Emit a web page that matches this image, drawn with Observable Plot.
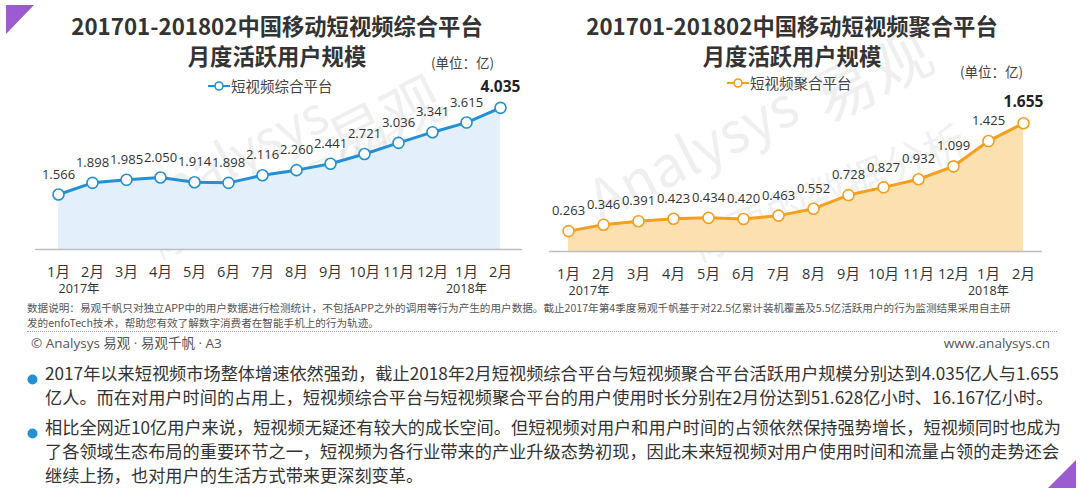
<!DOCTYPE html>
<html><head><meta charset="utf-8">
<script src="https://cdn.jsdelivr.net/npm/d3@7"></script>
<script src="https://cdn.jsdelivr.net/npm/@observablehq/plot@0.6"></script>
<style>
body{margin:0;width:1080px;height:492px;position:relative;background:#fff;overflow:hidden;font-family:"Open Sans","Noto Sans CJK SC",sans-serif;color:#333}
.abs{position:absolute;white-space:nowrap}
.title{font-family:"Noto Sans CJK SC",sans-serif;font-weight:bold;font-size:22.3px;color:#333;text-align:center;width:540px;line-height:30px}
.unit{font-family:"Noto Sans CJK SC",sans-serif;font-size:13.5px;color:#444;line-height:18px}
.legend{font-family:"Noto Sans CJK SC",sans-serif;font-size:14.5px;color:#444;line-height:20px;display:flex;align-items:center}
.note{font-family:"Noto Sans CJK SC",sans-serif;font-size:10.6px;color:#555;line-height:15px}
.foot{font-family:"Open Sans","Noto Sans CJK SC",sans-serif;font-size:13.5px;color:#555;line-height:18px}
.para{font-family:"Noto Sans CJK SC",sans-serif;font-size:17.2px;color:#333;line-height:22px}
.just{width:1000px;text-align:justify;text-align-last:justify}
.wm{position:absolute;white-space:nowrap;color:rgba(150,150,150,0.15);font-family:"Noto Sans CJK SC",sans-serif;transform-origin:left center;pointer-events:none}
</style></head>
<body>
<div id="root"></div>
<script>
const months = ["1月","2月","3月","4月","5月","6月","7月","8月","9月","10月","11月","12月","1月","2月"];
const years = [{i:0,label:"2017年"},{i:12,label:"2018年"}];
const comprehensive = [1.566,1.898,1.985,2.050,1.914,1.898,2.116,2.260,2.441,2.721,3.036,3.341,3.615,4.035];
const aggregate = [0.263,0.346,0.391,0.423,0.434,0.420,0.463,0.552,0.728,0.827,0.932,1.099,1.425,1.655];
const titles = [["201701-201802中国移动短视频综合平台","月度活跃用户规模"],["201701-201802中国移动短视频聚合平台","月度活跃用户规模"]];
const seriesNames = ["短视频综合平台","短视频聚合平台"];
const unitLabel = "(单位：亿)";
const noteLines = ["数据说明：易观千帆只对独立APP中的用户数据进行检测统计，不包括APP之外的调用等行为产生的用户数据。截止2017年第4季度易观千帆基于对22.5亿累计装机覆盖及5.5亿活跃用户的行为监测结果采用自主研","发的enfoTech技术，帮助您有效了解数字消费者在智能手机上的行为轨迹。"];
const footLeft = "© Analysys 易观 · 易观千帆 · A3";
const footRight = "www.analysys.cn";
const para1 = ["2017年以来短视频市场整体增速依然强劲，截止2018年2月短视频综合平台与短视频聚合平台活跃用户规模分别达到4.035亿人与1.655","亿人。而在对用户时间的占用上，短视频综合平台与短视频聚合平台的用户使用时长分别在2月份达到51.628亿小时、16.167亿小时。"];
const para2 = ["相比全网近10亿用户来说，短视频无疑还有较大的成长空间。但短视频对用户和用户时间的占领依然保持强势增长，短视频同时也成为","了各领域生态布局的重要环节之一，短视频为各行业带来的产业升级态势初现，因此未来短视频对用户使用时间和流量占领的走势还会","继续上扬，也对用户的生活方式带来更深刻变革。"];

const blue = "#2390d6", blueFill = "#e3f0fb";
const orange = "#f59f1c", orangeFill = "#fde0b0";
const purple = "#9b5cd2";
const root = document.getElementById("root");

function add(html, cls, left, top, extra) {
  const d = document.createElement("div");
  d.className = "abs " + (cls || "");
  d.style.left = left + "px"; d.style.top = top + "px";
  if (extra) Object.assign(d.style, extra);
  d.innerHTML = html;
  root.appendChild(d);
  return d;
}

// corner triangles
add(`<svg width="28" height="29"><polygon points="0,0 28,0 0,29" fill="${purple}"/></svg>`, "", 6, 5);
add(`<svg width="28" height="28"><polygon points="28,0 28,28 0,28" fill="${purple}"/></svg>`, "", 1048, 460);

// watermarks
function wm(text, left, top, size, rot) {
  const d = add(text, "", left, top);
  d.className = "wm";
  d.style.fontSize = size + "px";
  d.style.transform = `rotate(${rot}deg)`;
}
wm("Analysys", 135, 165, 52, -27);
wm("易观", 330, 100, 60, -27);
wm("你要的数据分析", 150, 215, 40, -22);
wm("Analysys", 590, 160, 56, -27);
wm("易观", 815, 55, 62, -27);
wm("你要的数据分析", 690, 215, 42, -22);

function chart(values, color, fill, yMax, m) {
  const data = values.map((v, i) => ({i, v, label: v.toFixed(3)}));
  const last = data.length - 1;
  return Plot.plot({
    width: 540, height: 240,
    marginLeft: m.l, marginRight: m.r, marginTop: m.t, marginBottom: m.b,
    x: {type: "point", domain: d3.range(months.length), padding: 0.5, label: null},
    y: {domain: [0, yMax], axis: null},
    style: {fontFamily: '"Open Sans","Noto Sans CJK SC",sans-serif', background: "transparent", overflow: "visible", color: "#333"},
    marks: [
      Plot.areaY(data, {x: "i", y: "v", fill: fill}),
      Plot.ruleY([0], {stroke: "#bdbdbd", strokeWidth: 1.5}),
      Plot.lineY(data, {x: "i", y: "v", stroke: color, strokeWidth: 3}),
      Plot.dot(data, {x: "i", y: "v", r: 5.5, fill: "white", stroke: color, strokeWidth: 1.6}),
      Plot.text(data.filter(d => d.i !== last), {x: "i", y: "v", text: "label", dy: -20, fontSize: 13, fill: "#333"}),
      Plot.text(data.filter(d => d.i === last), {x: "i", y: "v", text: "label", dy: -21, fontSize: 15.5, fontWeight: "bold", fill: "#222"}),
      Plot.axisX({tickFormat: i => months[i], label: null, tickSize: 0, tickPadding: 17, fontSize: 14.5, fill: "#333", fontFamily: '"Open Sans","Noto Sans CJK SC",sans-serif'}),
      Plot.text(years.filter(d => d.i === 0), {x: "i", text: "label", frameAnchor: "bottom", dy: 43, dx: 0, textAnchor: "start", fontSize: 12.5, fill: "#333"}),
      Plot.text(years.filter(d => d.i !== 0), {x: "i", text: "label", frameAnchor: "bottom", dy: 43, fontSize: 12.5, fill: "#333"})
    ]
  });
}

const c1 = chart(comprehensive, blue, blueFill, 4.5, {l: 35, r: 18, t: 31, b: 51});
const c2 = chart(aggregate, orange, orangeFill, 2.0, {l: 9, r: 38, t: 36, b: 49});
const w1 = add("", "", 0, 60); w1.appendChild(c1);
const w2 = add("", "", 540, 60); w2.appendChild(c2);

// titles
add(titles[0].join("<br>"), "title", 7, 10);
add(titles[1].join("<br>"), "title", 522, 10);
add(unitLabel, "unit", 431, 53);
add(unitLabel, "unit", 960, 62);
function legendIcon(color) {
  return `<svg width="22" height="12" style="margin-right:1px"><line x1="0" y1="6" x2="22" y2="6" stroke="${color}" stroke-width="2"/><circle cx="11" cy="6" r="4" fill="white" stroke="${color}" stroke-width="1.6"/></svg>`;
}
add(legendIcon(blue) + seriesNames[0], "legend", 208, 76);
add(legendIcon(orange) + seriesNames[1], "legend", 727, 73);

// notes
add(noteLines[0], "note", 27, 300);
add(noteLines[1], "note", 27, 315);
add("", "", 27, 331, {width: "1030px", borderTop: "1px dotted #999"});
add(footLeft, "foot", 31, 334);
add(footRight, "foot", 1050, 334, {transform: "translateX(-100%)"});

// paragraphs
function bullet(top) {
  add(`<svg width="11" height="11"><circle cx="5.5" cy="5.5" r="5" fill="${blue}"/></svg>`, "", 27, top);
}
bullet(368);
add(para1[0], "para just", 45, 362);
add(para1[1], "para just", 45, 386);
bullet(422);
add(para2[0], "para just", 45, 416);
add(para2[1], "para just", 45, 440);
add(para2[2], "para", 45, 464);
</script>
</body></html>
